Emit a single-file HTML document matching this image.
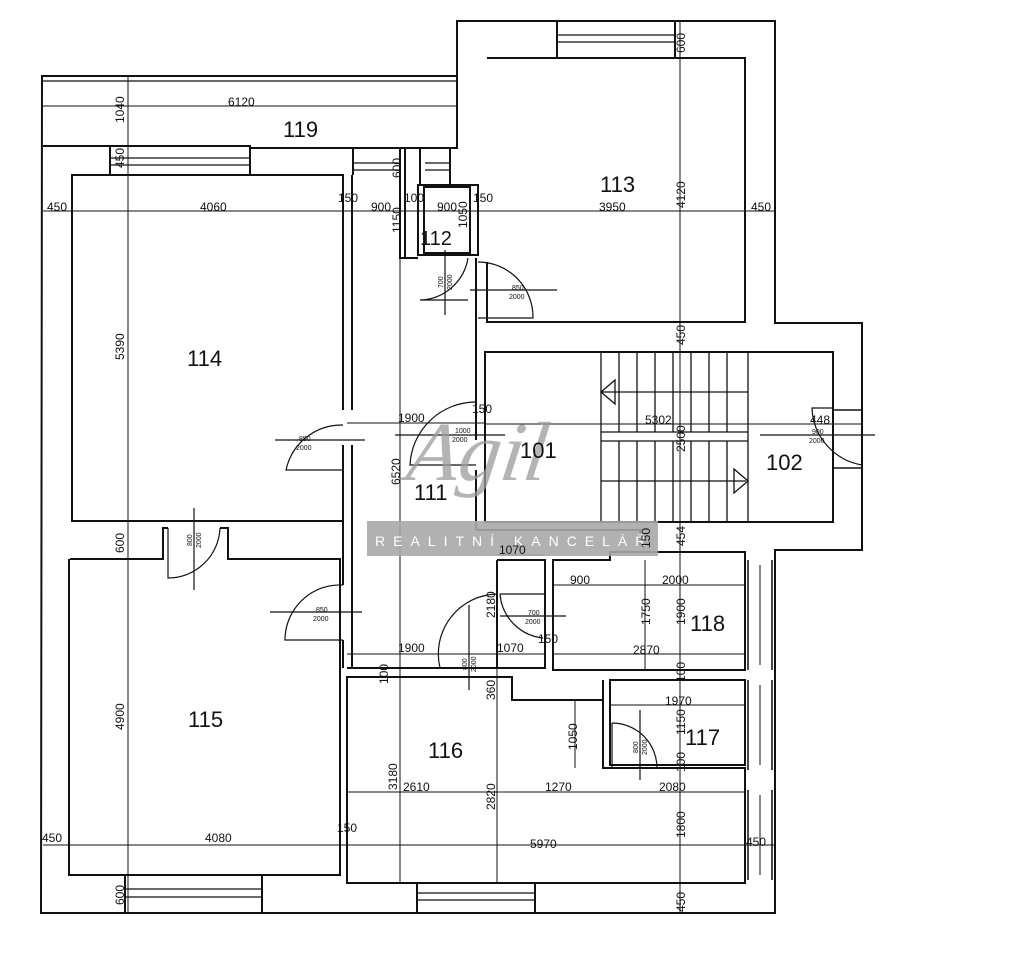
<!DOCTYPE html>
<html><head><meta charset="utf-8"><style>
html,body{margin:0;padding:0;background:#fff;}
svg{display:block}
text{font-family:"Liberation Sans",sans-serif;fill:#111;}
.d{font-size:12px}
.r{font-size:22px}
.s{font-size:7px}
</style></head><body>
<svg width="1024" height="974" viewBox="0 0 1024 974" xmlns="http://www.w3.org/2000/svg">
<rect width="1024" height="974" fill="#fff"/>
<g fill="none" stroke="#111" stroke-width="2">
<path d="M42,76 H457 V21 H775 V323 H862 V550 H775 V913 H41 Z"/>
<line x1="43" y1="81" x2="457" y2="81" stroke-width="1.2"/>
<path d="M43,146 H110 V175"/>
<path d="M110,146 H250 V175"/>
<line x1="110" y1="158" x2="250" y2="158" stroke-width="1.2"/>
<line x1="110" y1="165" x2="250" y2="165" stroke-width="1.2"/>
<path d="M250,148 H353 V175"/>
<path d="M353,148 H457 V77"/>
<line x1="353" y1="163" x2="400" y2="163" stroke-width="1.2"/>
<line x1="353" y1="170" x2="400" y2="170" stroke-width="1.2"/>
<path d="M400,148 V258 H418"/>
<path d="M405,148 V258"/>
<path d="M420,148 V185"/>
<path d="M450,148 V185"/>
<line x1="425" y1="163" x2="450" y2="163" stroke-width="1.2"/>
<line x1="425" y1="170" x2="450" y2="170" stroke-width="1.2"/>
<rect x="418" y="185" width="60" height="70"/>
<rect x="424" y="187" width="46" height="66"/>
<path d="M343,410 V175 H72 V521 H343 V445"/>
<path d="M352,175 V410 M352,445 V668"/>
<path d="M70,559 H163 V528 H168 M220,528 H228 V559 H340 V875 H69 V559"/>
<path d="M343,521 V585 M343,640 V668"/>
<path d="M487,58 H745 V322 H487 V262"/>
<path d="M476,258 V440 M476,470 V530"/>
<path d="M557,21 V58 M675,21 V58"/>
<line x1="557" y1="35" x2="675" y2="35" stroke-width="1.2"/>
<line x1="557" y1="42" x2="675" y2="42" stroke-width="1.2"/>
<rect x="485" y="352" width="348" height="170"/>
<path d="M833,410 H862 M833,468 H862" stroke-width="1.5"/>
<path d="M347,668 H545 V560 H497"/>
<path d="M497,560 V668"/>
<path d="M476,530 H640 V545"/>
<path d="M553,560 H610 V552 H745 V670 H553 Z"/>
<path d="M545,560 V668"/>
<path d="M610,680 H745 V765 H610 Z"/>
<path d="M603,680 V768"/>
<path d="M347,677 H512 V700 H603 V768 H745 V883 H347 Z"/>
<path d="M748,560 V670 M772,560 V670 M748,680 V770 M772,680 V770 M748,790 V880 M772,790 V880" stroke-width="1.5"/>
<line x1="760" y1="565" x2="760" y2="665" stroke-width="1"/>
<line x1="760" y1="685" x2="760" y2="765" stroke-width="1"/>
<line x1="760" y1="795" x2="760" y2="875" stroke-width="1"/>
<path d="M125,875 V913 M262,875 V913"/>
<line x1="125" y1="889" x2="262" y2="889" stroke-width="1.2"/>
<line x1="125" y1="897" x2="262" y2="897" stroke-width="1.2"/>
<path d="M417,883 V913 M535,883 V913"/>
<line x1="417" y1="893" x2="535" y2="893" stroke-width="1.2"/>
<line x1="417" y1="900" x2="535" y2="900" stroke-width="1.2"/>
</g>
<g stroke="#111" fill="none" stroke-width="1.3">
<rect x="601" y="352" width="147" height="170"/>
<line x1="601" y1="432" x2="748" y2="432"/>
<line x1="601" y1="441" x2="748" y2="441"/>
<path d="M619,352V432M637,352V432M655,352V432M673,352V432M691,352V432M709,352V432M727,352V432"/>
<path d="M619,441V522M637,441V522M655,441V522M673,441V522M691,441V522M709,441V522M727,441V522"/>
<line x1="601" y1="392" x2="748" y2="392"/><path d="M615,380 L601,392 L615,404 Z"/>
<line x1="601" y1="481" x2="746" y2="481"/><path d="M734,469 L748,481 L734,493 Z"/>
</g>
<g stroke="#111" stroke-width="1" fill="none">
<line x1="43" y1="106" x2="457" y2="106"/>
<line x1="43" y1="211" x2="775" y2="211"/>
<line x1="128" y1="77" x2="128" y2="913"/>
<line x1="43" y1="845" x2="775" y2="845"/>
<line x1="347" y1="423" x2="485" y2="423"/>
<line x1="485" y1="424" x2="862" y2="424"/>
<line x1="400" y1="255" x2="400" y2="883"/>
<line x1="680" y1="21" x2="680" y2="913"/>
<line x1="347" y1="654" x2="545" y2="654"/>
<line x1="553" y1="585" x2="745" y2="585"/>
<line x1="553" y1="654" x2="745" y2="654"/>
<line x1="610" y1="705" x2="745" y2="705"/>
<line x1="347" y1="792" x2="745" y2="792"/>
<line x1="497" y1="555" x2="545" y2="555"/>
<line x1="497" y1="590" x2="497" y2="883"/>
<line x1="645" y1="560" x2="645" y2="670"/>
<line x1="575" y1="700" x2="575" y2="768"/>
</g>
<g stroke="#111" stroke-width="1.2" fill="none">
<path d="M343,425 A57,57 0 0 0 286,470 H343"/>
<line x1="275" y1="440" x2="365" y2="440"/>
<path d="M476,402 A66,66 0 0 0 410,465 H476"/>
<line x1="395" y1="435" x2="505" y2="435"/>
<path d="M478,262 A55,55 0 0 1 533,318 H478"/>
<line x1="470" y1="290" x2="557" y2="290"/>
<path d="M468,258 A50,50 0 0 1 420,300 H468"/>
<line x1="445" y1="250" x2="445" y2="315"/>
<path d="M343,585 A55,55 0 0 0 285,640 H343"/>
<line x1="270" y1="612" x2="362" y2="612"/>
<path d="M168,528 V578 A52,52 0 0 0 220,528"/>
<line x1="194" y1="508" x2="194" y2="590"/>
<path d="M497,594 A60,60 0 0 0 440,668"/>
<line x1="469" y1="605" x2="469" y2="690"/>
<path d="M500,594 H545 M500,594 A48,48 0 0 0 543,638"/>
<line x1="500" y1="616" x2="566" y2="616"/>
<path d="M612,723 A45,45 0 0 1 657,768 M612,723 V768"/>
<line x1="640" y1="710" x2="640" y2="780"/>
<path d="M833,408 H812 A60,60 0 0 0 862,465"/>
<line x1="760" y1="435" x2="875" y2="435"/>
</g>
<text x="412" y="480" style="font-family:'Liberation Serif',serif;font-style:italic;font-size:84px;fill:#9c9c9c;opacity:.75" transform="skewX(-8) translate(60,0)">Agil</text>
<rect x="367" y="521" width="291" height="35" fill="#a8a8a8" opacity=".9"/>
<text x="375" y="546" style="font-size:14px;fill:#fff;letter-spacing:8px">REALITNÍ KANCELÁŘ</text>
<text class="r" x="283" y="137">119</text>
<text class="r" x="600" y="192">113</text>
<text class="r" x="420" y="245" style="font-size:20px">112</text>
<text class="r" x="187" y="366">114</text>
<text class="r" x="520" y="458">101</text>
<text class="r" x="766" y="470">102</text>
<text class="r" x="414" y="500">111</text>
<text class="r" x="690" y="631">118</text>
<text class="r" x="685" y="745">117</text>
<text class="r" x="428" y="758">116</text>
<text class="r" x="188" y="727">115</text>
<g class="d">
<text x="228" y="106">6120</text>
<text x="47" y="211">450</text>
<text x="200" y="211">4060</text>
<text x="338" y="202">150</text>
<text x="371" y="211">900</text>
<text x="404" y="202">100</text>
<text x="437" y="211">900</text>
<text x="473" y="202">150</text>
<text x="599" y="211">3950</text>
<text x="751" y="211">450</text>
<text x="398" y="422">1900</text>
<text x="472" y="413">150</text>
<text x="645" y="424">5302</text>
<text x="810" y="424">448</text>
<text x="499" y="554">1070</text>
<text x="570" y="584">900</text>
<text x="662" y="584">2000</text>
<text x="398" y="652">1900</text>
<text x="497" y="652">1070</text>
<text x="538" y="643">150</text>
<text x="633" y="654">2870</text>
<text x="665" y="705">1970</text>
<text x="403" y="791">2610</text>
<text x="545" y="791">1270</text>
<text x="659" y="791">2080</text>
<text x="530" y="848">5970</text>
<text x="205" y="842">4080</text>
<text x="42" y="842">450</text>
<text x="337" y="832">150</text>
<text x="746" y="846">450</text>
</g>
<g class="d">
<text transform="translate(124,123) rotate(-90)">1040</text>
<text transform="translate(124,168) rotate(-90)">450</text>
<text transform="translate(124,360) rotate(-90)">5390</text>
<text transform="translate(124,553) rotate(-90)">600</text>
<text transform="translate(124,730) rotate(-90)">4900</text>
<text transform="translate(124,905) rotate(-90)">600</text>
<text transform="translate(401,178) rotate(-90)">600</text>
<text transform="translate(401,233) rotate(-90)">1150</text>
<text transform="translate(467,228) rotate(-90)">1050</text>
<text transform="translate(400,485) rotate(-90)">6520</text>
<text transform="translate(685,53) rotate(-90)">600</text>
<text transform="translate(685,208) rotate(-90)">4120</text>
<text transform="translate(685,345) rotate(-90)">450</text>
<text transform="translate(685,452) rotate(-90)">2500</text>
<text transform="translate(685,546) rotate(-90)">454</text>
<text transform="translate(650,548) rotate(-90)">150</text>
<text transform="translate(495,618) rotate(-90)">2180</text>
<text transform="translate(650,625) rotate(-90)">1750</text>
<text transform="translate(685,625) rotate(-90)">1900</text>
<text transform="translate(388,684) rotate(-90)">100</text>
<text transform="translate(495,700) rotate(-90)">360</text>
<text transform="translate(685,682) rotate(-90)">100</text>
<text transform="translate(577,750) rotate(-90)">1050</text>
<text transform="translate(685,735) rotate(-90)">1150</text>
<text transform="translate(685,772) rotate(-90)">100</text>
<text transform="translate(397,790) rotate(-90)">3180</text>
<text transform="translate(495,810) rotate(-90)">2820</text>
<text transform="translate(685,838) rotate(-90)">1800</text>
<text transform="translate(685,912) rotate(-90)">450</text>
</g>
<g class="s">
<text x="299" y="441">850</text><text x="296" y="450">2000</text>
<text x="455" y="433">1000</text><text x="452" y="442">2000</text>
<text x="512" y="290">850</text><text x="509" y="299">2000</text>
<text x="316" y="612">850</text><text x="313" y="621">2000</text>
<text x="528" y="615">700</text><text x="525" y="624">2000</text>
<text x="812" y="434">900</text><text x="809" y="443">2000</text>
<text transform="translate(443,288) rotate(-90)">700</text><text transform="translate(452,290) rotate(-90)">2000</text>
<text transform="translate(192,546) rotate(-90)">800</text><text transform="translate(201,548) rotate(-90)">2000</text>
<text transform="translate(467,670) rotate(-90)">800</text><text transform="translate(476,672) rotate(-90)">2000</text>
<text transform="translate(638,753) rotate(-90)">800</text><text transform="translate(647,755) rotate(-90)">2000</text>
</g>
</svg>
</body></html>
